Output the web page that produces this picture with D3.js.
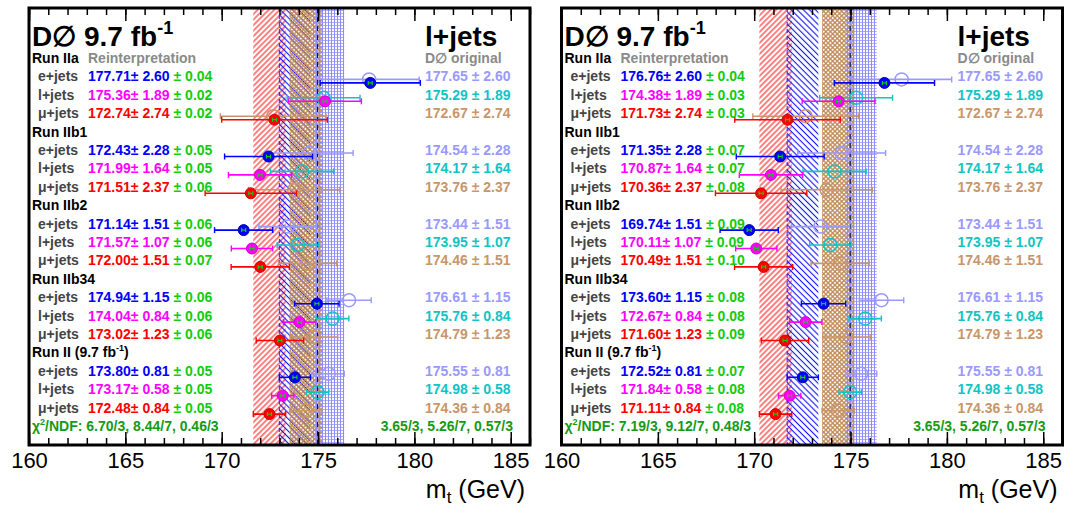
<!DOCTYPE html>
<html>
<head>
<meta charset="utf-8">
<script src="https://cdn.jsdelivr.net/npm/d3@7"></script>
<style>
    body { margin: 0; background: #fff; }
    text { font-family: "Liberation Sans", Arial, Helvetica, sans-serif; white-space: pre; }
</style>
</head>
<body>
<div id="vis"></div>
<script>
/* Two panels: D0 l+jets top mass per run period, reinterpretation vs. D0 original */

// Run periods and channels
var runs = ['Run IIa', 'Run IIb1', 'Run IIb2', 'Run IIb34', 'Run II (9.7 fb'];
var channels = ['e+jets', 'l+jets', '\u03bc+jets'];

// x axis ticks (GeV)
var xDomain = [160, 186];
var majorTicks = [160, 165, 170, 175, 180, 185];
var minorTicks = d3.range(160, 187, 1);

// D0 original (same in both panels), rows = runs, cols = e, l, mu
var origMass = [[177.65, 175.29, 172.67], [174.54, 174.17, 173.76], [173.44, 173.95, 174.46], [176.61, 175.76, 174.79], [175.55, 174.98, 174.36]];
var origErr = [[2.60, 1.89, 2.74], [2.28, 1.64, 2.37], [1.51, 1.07, 1.51], [1.15, 0.84, 1.23], [0.81, 0.58, 0.84]];
var origChi2 = ['3.65/3', '5.26/7', '0.57/3'];

// Reinterpretation errors (same in both panels)
var reintErr = [[2.60, 1.89, 2.74], [2.28, 1.64, 2.37], [1.51, 1.07, 1.51], [1.15, 0.84, 1.23], [0.81, 0.58, 0.84]];

// Reinterpretation, left panel
var leftMass = [[177.71, 175.36, 172.74], [172.43, 171.99, 171.51], [171.14, 171.57, 172.00], [174.94, 174.04, 173.02], [173.80, 173.17, 172.48]];
var leftStat = [[0.04, 0.02, 0.02], [0.05, 0.05, 0.06], [0.06, 0.06, 0.07], [0.06, 0.06, 0.06], [0.05, 0.05, 0.05]];
var leftChi2 = ['6.70/3', '8.44/7', '0.46/3'];

// Reinterpretation, right panel
var rightMass = [[176.76, 174.38, 171.73], [171.35, 170.87, 170.36], [169.74, 170.11, 170.49], [173.60, 172.67, 171.60], [172.52, 171.84, 171.11]];
var rightStat = [[0.04, 0.03, 0.03], [0.07, 0.07, 0.08], [0.09, 0.09, 0.10], [0.08, 0.08, 0.09], [0.07, 0.08, 0.08]];
var rightChi2 = ['7.19/3', '9.12/7', '0.48/3'];

// colours
var reintColors = ['#0000ff', '#ff00ff', '#ff0000'];
var reintStroke = ['#0000b0', '#d000d0', '#d00000'];
var origColors = ['#9999ff', '#11c4c4', '#c8966a'];
var statColor = '#11cc11';
var chiColor = '#169a16';

// SVG size and frame
var width = 1074;
var height = 508;
var frameTop = 8;
var frameBottom = 445;
var frameW = 501;

var fmt = d3.format('.2f');

var svg = d3.select('#vis')
    .append('svg')
    .attr('width', width)
    .attr('height', height);

/************************************** Hatch patterns ***************************************/
var defs = svg.append('defs');

function hatch(id, color, angle, gap, w, cross) {
    var p = defs.append('pattern')
        .attr('id', id)
        .attr('patternUnits', 'userSpaceOnUse')
        .attr('width', gap)
        .attr('height', gap)
        .attr('patternTransform', 'rotate(' + angle + ')');
    p.append('line')
        .attr('x1', gap / 2).attr('x2', gap / 2)
        .attr('y1', 0).attr('y2', gap)
        .attr('stroke', color).attr('stroke-width', w);
    if (cross) {
        p.append('line')
            .attr('x1', 0).attr('x2', gap)
            .attr('y1', gap / 2).attr('y2', gap / 2)
            .attr('stroke', color).attr('stroke-width', cross);
    }
}
hatch('hRed', '#ff1a1a', 45, 3.9, 1.1, 0);
hatch('hBlue', '#1010ff', -45, 4.3, 1.1, 0);
hatch('hTan', '#bf8755', 45, 3.2, 1.3, 1.3);
hatch('hLav', '#8c8cff', 0, 3, 1.1, 0.7);

// rows: run label, e, l, mu ... chi2 last
var y = d3.scaleLinear().domain([0, 20]).range([58, 426]);

/************************************** One panel ***************************************/
function drawPanel(x0, idx, mass, stat, chi2) {
    var x = d3.scaleLinear().domain(xDomain).range([x0, x0 + frameW]);
    var g = svg.append('g');

    g.append('clipPath').attr('id', 'clip' + idx)
        .append('rect')
        .attr('x', x0).attr('y', frameTop)
        .attr('width', frameW).attr('height', frameBottom - frameTop);

    var plot = g.append('g').attr('clip-path', 'url(#clip' + idx + ')');

    // bands from the Run II combined values
    var bands = [
        {m: mass[4][2], e: reintErr[4][2], fill: 'url(#hRed)'},
        {m: mass[4][0], e: reintErr[4][0], fill: 'url(#hBlue)'},
        {m: origMass[4][2], e: origErr[4][2], fill: 'url(#hTan)'},
        {m: origMass[4][0], e: origErr[4][0], fill: 'url(#hLav)'}
    ];
    plot.selectAll('rect.band').data(bands).enter()
        .append('rect')
        .attr('class', 'band')
        .attr('x', function(d) { return x(d.m - d.e); })
        .attr('width', function(d) { return x(d.m + d.e) - x(d.m - d.e); })
        .attr('y', frameTop)
        .attr('height', frameBottom - frameTop)
        .attr('fill', function(d) { return d.fill; });

    // dashed lines: blue band edge and original l+jets
    plot.append('line')
        .attr('x1', x(mass[4][0] - reintErr[4][0])).attr('x2', x(mass[4][0] - reintErr[4][0]))
        .attr('y1', frameTop).attr('y2', frameBottom)
        .attr('stroke', '#2020ff').attr('stroke-width', 1).attr('stroke-dasharray', '4,3');
    plot.append('line')
        .attr('x1', x(origMass[4][1])).attr('x2', x(origMass[4][1]))
        .attr('y1', frameTop).attr('y2', frameBottom)
        .attr('stroke', '#000').attr('stroke-width', 1).attr('stroke-dasharray', '5,4');

    // flatten points
    var pts = [];
    runs.forEach(function(r, i) {
        channels.forEach(function(c, j) {
            pts.push({row: i * 4 + 1 + j, c: j, om: origMass[i][j], oe: origErr[i][j],
                rm: mass[i][j], re: reintErr[i][j], rs: stat[i][j]});
        });
    });

    // original: open circles with error bars
    var og = plot.selectAll('g.orig').data(pts).enter().append('g').attr('class', 'orig');
    og.append('line')
        .attr('x1', function(d) { return x(d.om - d.oe); })
        .attr('x2', function(d) { return x(d.om + d.oe); })
        .attr('y1', function(d) { return y(d.row) + 3; })
        .attr('y2', function(d) { return y(d.row) + 3; })
        .attr('stroke', function(d) { return origColors[d.c]; })
        .attr('stroke-width', 1.6);
    [-1, 1].forEach(function(s) {
        og.append('line')
            .attr('x1', function(d) { return x(d.om + s * d.oe); })
            .attr('x2', function(d) { return x(d.om + s * d.oe); })
            .attr('y1', function(d) { return y(d.row) + 0; })
            .attr('y2', function(d) { return y(d.row) + 6; })
            .attr('stroke', function(d) { return origColors[d.c]; })
            .attr('stroke-width', 1.4);
    });
    og.append('circle')
        .attr('cx', function(d) { return x(d.om); })
        .attr('cy', function(d) { return y(d.row) + 3; })
        .attr('r', 6.5)
        .attr('fill', 'none')
        .attr('stroke', function(d) { return origColors[d.c]; })
        .attr('stroke-width', 1.5);

    // reinterpretation: filled circles with error bars and green stat bar
    var rg = plot.selectAll('g.reint').data(pts).enter().append('g').attr('class', 'reint');
    rg.append('line')
        .attr('x1', function(d) { return x(d.rm - d.re); })
        .attr('x2', function(d) { return x(d.rm + d.re); })
        .attr('y1', function(d) { return y(d.row) + 6.5; })
        .attr('y2', function(d) { return y(d.row) + 6.5; })
        .attr('stroke', function(d) { return reintColors[d.c]; })
        .attr('stroke-width', 1.6);
    [-1, 1].forEach(function(s) {
        rg.append('line')
            .attr('x1', function(d) { return x(d.rm + s * d.re); })
            .attr('x2', function(d) { return x(d.rm + s * d.re); })
            .attr('y1', function(d) { return y(d.row) + 3.5; })
            .attr('y2', function(d) { return y(d.row) + 9.5; })
            .attr('stroke', function(d) { return reintColors[d.c]; })
            .attr('stroke-width', 1.4);
    });
    rg.append('circle')
        .attr('cx', function(d) { return x(d.rm); })
        .attr('cy', function(d) { return y(d.row) + 6.5; })
        .attr('r', 5.5)
        .attr('fill', function(d) { return reintColors[d.c]; })
        .attr('stroke', function(d) { return reintStroke[d.c]; })
        .attr('stroke-width', 1);
    // tiny stat error, widened to stay visible
    rg.append('path')
        .attr('d', function(d) {
            var h = Math.max(x(d.rm + d.rs) - x(d.rm), 2);
            var cx = x(d.rm), cy = y(d.row) + 6.5;
            return 'M' + (cx - h) + ',' + cy + 'H' + (cx + h) +
                'M' + (cx - h) + ',' + (cy - 2) + 'V' + (cy + 2) +
                'M' + (cx + h) + ',' + (cy - 2) + 'V' + (cy + 2);
        })
        .attr('stroke', statColor).attr('stroke-width', 1.2).attr('fill', 'none');

    /************************************** Texts ***************************************/
    // title
    var t = g.append('text').attr('x', x0 + 3).attr('y', 46)
        .attr('font-size', 28).attr('font-weight', 'bold').attr('fill', '#000');
    t.append('tspan').text('D\u2205 9.7 fb');
    t.append('tspan').attr('font-size', 18).attr('dy', -12).text('-1');

    g.append('text').attr('x', x0 + 396).attr('y', 46)
        .attr('font-size', 28).attr('font-weight', 'bold').attr('fill', '#000')
        .text('l+jets');

    g.append('text').attr('x', x0 + 59).attr('y', y(0)).attr('dy', '0.36em')
        .attr('font-size', 14).attr('font-weight', 'bold').attr('fill', '#8a8a8a')
        .text('Reinterpretation');
    g.append('text').attr('x', x0 + 396).attr('y', y(0)).attr('dy', '0.36em')
        .attr('font-size', 14).attr('font-weight', 'bold').attr('fill', '#8a8a8a')
        .text('D\u2205 original');

    // run labels
    runs.forEach(function(r, i) {
        var rt = g.append('text').attr('x', x0 + 3).attr('y', y(i * 4)).attr('dy', '0.36em')
            .attr('font-size', 14).attr('font-weight', 'bold').attr('fill', '#000');
        rt.append('tspan').text(r);
        if (i === 4) {
            rt.append('tspan').attr('font-size', 9).attr('dy', -6).text('-1');
            rt.append('tspan').attr('dy', 6).text(')');
        }
    });

    // channel labels and values
    var rows = g.selectAll('g.row').data(pts).enter().append('g').attr('class', 'row');
    rows.append('text')
        .attr('x', x0 + 9).attr('y', function(d) { return y(d.row); }).attr('dy', '0.36em')
        .attr('font-size', 14).attr('font-weight', 'bold').attr('fill', '#444')
        .text(function(d) { return channels[d.c]; });
    var vt = rows.append('text')
        .attr('x', x0 + 59).attr('y', function(d) { return y(d.row); }).attr('dy', '0.36em')
        .attr('font-size', 14).attr('font-weight', 'bold');
    vt.append('tspan').attr('fill', function(d) { return reintColors[d.c]; })
        .text(function(d) { return fmt(d.rm) + '\u00b1 ' + fmt(d.re); });
    vt.append('tspan').attr('fill', statColor)
        .text(function(d) { return ' \u00b1 ' + fmt(d.rs); });
    rows.append('text')
        .attr('x', x0 + 396).attr('y', function(d) { return y(d.row); }).attr('dy', '0.36em')
        .attr('font-size', 14).attr('font-weight', 'bold')
        .attr('fill', function(d) { return origColors[d.c]; })
        .text(function(d) { return fmt(d.om) + ' \u00b1 ' + fmt(d.oe); });

    // chi2
    var ct = g.append('text').attr('x', x0 + 3).attr('y', y(20)).attr('dy', '0.36em')
        .attr('font-size', 14).attr('font-weight', 'bold').attr('fill', chiColor);
    ct.append('tspan').text('\u03c7');
    ct.append('tspan').attr('font-size', 9).attr('dy', -6).text('2');
    ct.append('tspan').attr('dy', 6).text('/NDF: ' + chi2.join(', '));
    g.append('text').attr('x', x0 + 484).attr('y', y(20)).attr('dy', '0.36em')
        .attr('text-anchor', 'end')
        .attr('font-size', 14).attr('font-weight', 'bold').attr('fill', chiColor)
        .text(origChi2.join(', '));

    /************************************** Axes and frame ***************************************/
    var xAxis = d3.axisBottom(x).tickValues(majorTicks).tickSizeInner(-13).tickSizeOuter(0)
        .tickPadding(7).tickFormat(d3.format('d'));
    var gx = g.append('g').attr('transform', 'translate(0,' + frameBottom + ')').call(xAxis);
    gx.select('.domain').remove();
    gx.selectAll('text').attr('font-size', 22).attr('fill', '#000')
        .style('font-family', '"Liberation Sans", Arial, sans-serif');
    gx.selectAll('line').attr('stroke-width', 1.5);

    var gxm = g.append('g').attr('transform', 'translate(0,' + frameBottom + ')')
        .call(d3.axisBottom(x).tickValues(minorTicks).tickSizeInner(-7).tickSizeOuter(0).tickFormat(''));
    gxm.select('.domain').remove();
    gxm.selectAll('line').attr('stroke-width', 1.5);

    var gt = g.append('g').attr('transform', 'translate(0,' + frameTop + ')')
        .call(d3.axisTop(x).tickValues(majorTicks).tickSizeInner(-13).tickSizeOuter(0).tickFormat(''));
    gt.select('.domain').remove();
    gt.selectAll('line').attr('stroke-width', 1.5);
    var gtm = g.append('g').attr('transform', 'translate(0,' + frameTop + ')')
        .call(d3.axisTop(x).tickValues(minorTicks).tickSizeInner(-7).tickSizeOuter(0).tickFormat(''));
    gtm.select('.domain').remove();
    gtm.selectAll('line').attr('stroke-width', 1.5);

    g.append('rect')
        .attr('x', x0).attr('y', frameTop)
        .attr('width', frameW).attr('height', frameBottom - frameTop)
        .attr('fill', 'none').attr('stroke', '#000').attr('stroke-width', 3);

    // axis title
    var at = g.append('text').attr('x', x0 + 496).attr('y', 498)
        .attr('text-anchor', 'end').attr('font-size', 25).attr('fill', '#000');
    at.append('tspan').text('m');
    at.append('tspan').attr('font-size', 17).attr('dy', 5).text('t');
    at.append('tspan').attr('dy', -5).text(' (GeV)');
}

drawPanel(29, 0, leftMass, leftStat, leftChi2);
drawPanel(561.5, 1, rightMass, rightStat, rightChi2);
</script>
</body>
</html>
